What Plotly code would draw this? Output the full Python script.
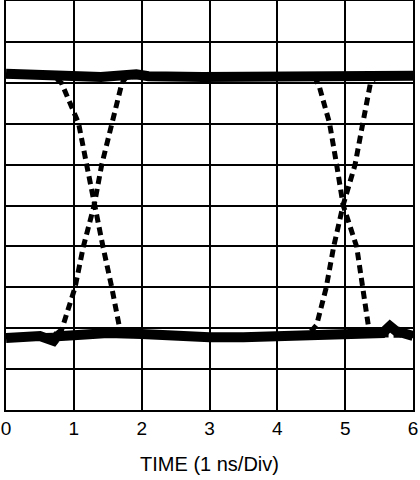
import plotly.graph_objects as go

# Time axis ticks (ns / div)
x_ticks = [0, 1, 2, 3, 4, 5, 6]
x_tick_labels = ["0", "1", "2", "3", "4", "5", "6"]

# Solid traces: high and low levels (vertical divisions, 0..10)
high_x = [0, 0.5, 1.0, 1.4, 1.92, 2.1, 2.9, 3.6, 4.3, 5.0, 5.5, 6.0]
high_y = [8.22, 8.19, 8.16, 8.14, 8.21, 8.16, 8.14, 8.15, 8.17, 8.17, 8.16, 8.17]

low_x = [0, 0.5, 0.7, 0.75, 1.0, 1.5, 2.0, 2.5, 3.0, 3.5, 4.0, 4.5, 5.0, 5.4, 5.55, 5.66, 5.75, 6.0]
low_y = [1.76, 1.81, 1.69, 1.80, 1.83, 1.88, 1.86, 1.81, 1.78, 1.78, 1.81, 1.83, 1.83, 1.86, 1.88, 2.05, 1.93, 1.81]

# Dashed trace A: falls near 1 ns, rises near 5 ns
a_x = [0, 0.70, 0.82, 1.07, 1.19, 1.30, 1.43, 1.56, 1.65, 1.68, 1.78, 3.0,
       4.45, 4.52, 4.58, 4.72, 4.83, 4.97, 5.145, 5.26, 5.37, 5.45, 6.0]
a_y = [8.17, 8.17, 7.99, 7.01, 5.99, 5.01, 3.99, 2.99, 2.20, 1.96, 1.84, 1.80,
       1.83, 1.96, 2.08, 2.99, 3.99, 5.01, 5.99, 7.01, 7.97, 8.15, 8.17]

# Dashed trace B: rises near 1 ns, falls near 5 ns
b_x = [0, 0.65, 0.72, 0.82, 0.87, 1.017, 1.14, 1.30, 1.41, 1.56, 1.71, 1.78, 3.0,
       4.55, 4.62, 4.77, 4.875, 4.97, 5.17, 5.26, 5.34, 5.37, 5.45, 6.0]
b_y = [1.80, 1.80, 1.83, 1.96, 2.20, 2.99, 3.99, 5.01, 5.99, 7.01, 8.00, 8.15, 8.15,
       8.15, 7.90, 7.01, 5.99, 5.01, 3.99, 2.99, 2.08, 1.96, 1.84, 1.82]

fig = go.Figure()
dash_style = dict(color="black", width=5, dash="8px,5px")
fig.add_trace(go.Scatter(x=a_x, y=a_y, mode="lines", line=dash_style, showlegend=False, hoverinfo="skip"))
fig.add_trace(go.Scatter(x=b_x, y=b_y, mode="lines", line=dash_style, showlegend=False, hoverinfo="skip"))
solid = dict(color="black", width=10)
fig.add_trace(go.Scatter(x=high_x, y=high_y, mode="lines", line=solid, showlegend=False, hoverinfo="skip"))
fig.add_trace(go.Scatter(x=low_x, y=low_y, mode="lines", line=solid, showlegend=False, hoverinfo="skip"))

font = "Liberation Sans, Arial, sans-serif"
fig.update_layout(
    width=420, height=480,
    margin=dict(l=6, r=7, t=1, b=70),
    paper_bgcolor="white", plot_bgcolor="white",
    font=dict(family=font, color="black", size=19),
    xaxis=dict(
        range=[0, 6], tickvals=x_ticks, ticktext=x_tick_labels,
        showgrid=True, gridcolor="black", gridwidth=1.5,
        showline=True, linecolor="black", linewidth=2, mirror=True,
        ticks="", zeroline=False, automargin=False,
        tickfont=dict(size=19),
        title=dict(text="TIME (1 ns/Div)", font=dict(size=20), standoff=19),
    ),
    yaxis=dict(
        range=[0, 10], dtick=1, showticklabels=False,
        showgrid=True, gridcolor="black", gridwidth=1.5,
        showline=True, linecolor="black", linewidth=2, mirror=True,
        ticks="", zeroline=False, automargin=False,
    ),
)

fig.write_html("out.html", config={"displayModeBar": False},
               post_script="document.body.style.margin='0';")
